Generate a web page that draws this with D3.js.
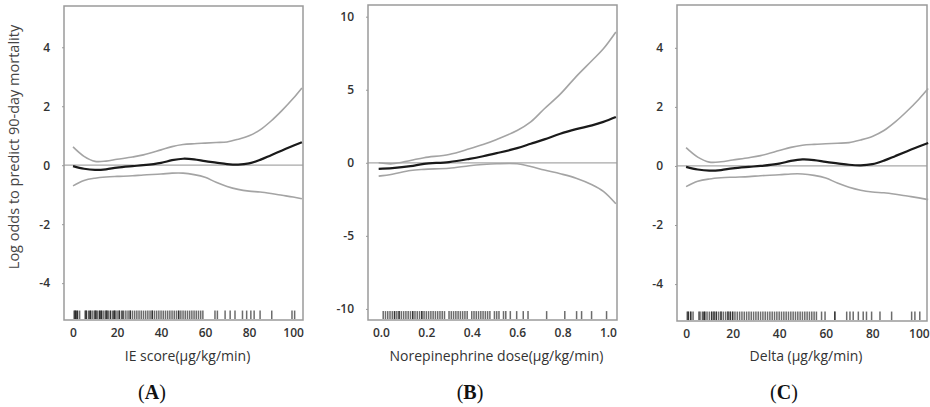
<!DOCTYPE html>
<html><head><meta charset="utf-8">
<script src="https://cdn.jsdelivr.net/npm/d3@7"></script>
<style>body{margin:0;background:#fff}svg{display:block}</style>
</head><body><svg id="c" width="930" height="407"></svg>
<script>
// ---- data ----
const xA = [0, 5, 10, 15, 20, 27, 32, 40, 45, 50, 55, 60, 65, 70, 75, 80, 85, 90, 95, 100, 104];
const fitA = [-0.03, -0.12, -0.16, -0.14, -0.08, -0.03, 0, 0.08, 0.17, 0.22, 0.2, 0.14, 0.09, 0.04, 0.02, 0.06, 0.18, 0.34, 0.5, 0.66, 0.78];
const upA = [0.62, 0.3, 0.13, 0.14, 0.2, 0.28, 0.35, 0.52, 0.63, 0.7, 0.73, 0.75, 0.77, 0.79, 0.88, 1.0, 1.2, 1.5, 1.86, 2.26, 2.62];
const loA = [-0.7, -0.52, -0.44, -0.4, -0.38, -0.36, -0.33, -0.3, -0.27, -0.27, -0.32, -0.41, -0.58, -0.72, -0.82, -0.88, -0.91, -0.96, -1.02, -1.08, -1.14];
const rugA = [0.5,1,1,1.5,2,2,3,5.5,6,6,7,7.5,8,8,9,10,10,10.5,11,12,12,12.5,13,13,14,15,15,15.5,16,17,17,18,18.5,19,19,20,21,21,22,22.5,23,24,25,26,26,27,28,29,30,31,32,33,34,35,36,36,37,38,39,40,41,42,43,44,45,46,47,48,48,49,50,51,52,53,54,55,56,57,58,59,64.5,65.6,69.1,71.4,73.6,77,78.9,80.8,82.3,85,90.3,99.5,100.7];

const xB = [-0.01, 0.05, 0.13, 0.19, 0.3, 0.39, 0.45, 0.51, 0.6, 0.66, 0.72, 0.79, 0.86, 0.93, 0.98, 1.035];
const fitB = [-0.41, -0.36, -0.23, -0.07, 0.05, 0.27, 0.45, 0.66, 1.0, 1.3, 1.6, 1.99, 2.3, 2.56, 2.8, 3.13];
const upB = [0.0, -0.07, 0.16, 0.35, 0.57, 0.96, 1.25, 1.6, 2.21, 2.8, 3.7, 4.7, 5.9, 7.0, 7.8, 8.95];
const loB = [-0.91, -0.78, -0.53, -0.45, -0.37, -0.2, -0.12, -0.07, -0.07, -0.25, -0.5, -0.75, -1.05, -1.5, -1.95, -2.8];
const rugB = [0.01,0.02,0.03,0.04,0.05,0.06,0.06,0.07,0.08,0.08,0.09,0.1,0.11,0.12,0.13,0.14,0.14,0.15,0.16,0.17,0.18,0.18,0.19,0.2,0.21,0.22,0.23,0.24,0.25,0.26,0.27,0.28,0.3,0.31,0.32,0.33,0.34,0.35,0.36,0.37,0.38,0.4,0.41,0.42,0.43,0.44,0.45,0.46,0.47,0.48,0.5,0.51,0.52,0.54,0.55,0.57,0.598,0.627,0.648,0.73,0.81,0.862,0.884,0.928,0.994];

const xC = [0, 5, 10, 15, 20, 27, 32, 40, 45, 50, 55, 60, 65, 70, 75, 80, 85, 90, 95, 100, 104];
const fitC = [-0.03, -0.12, -0.16, -0.14, -0.08, -0.03, 0, 0.08, 0.17, 0.22, 0.2, 0.14, 0.09, 0.04, 0.02, 0.06, 0.18, 0.34, 0.5, 0.66, 0.78];
const upC = [0.62, 0.3, 0.13, 0.14, 0.2, 0.28, 0.35, 0.52, 0.63, 0.7, 0.73, 0.75, 0.77, 0.79, 0.88, 1.0, 1.2, 1.5, 1.86, 2.26, 2.62];
const loC = [-0.7, -0.52, -0.44, -0.4, -0.38, -0.36, -0.33, -0.3, -0.27, -0.27, -0.32, -0.41, -0.58, -0.72, -0.82, -0.88, -0.91, -0.96, -1.02, -1.08, -1.14];
const rugC = [0.5,1,1,2,2,3,5.5,6,7,7.5,8,8,9,10,11,11,12,12,13,13,14,15,15,16,17,18,18,19,19,20,20,21,22,23,24,25,26,27,28,29,30,31,32,33,34,35,36,37,38,39,40,41,42,43,44,45,46,47,48,49,50,51,52,53,54,55,56,58.2,59.7,63.9,63.9,69,70.4,71.8,74,76.1,77.5,79.7,83.3,88.3,96.9,98.3,100.4];

const yTicksAC = [-4, -2, 0, 2, 4];
const yTicksB = [-10, -5, 0, 5, 10];
const xTicksAC = [0, 20, 40, 60, 80, 100];
const xTicksB = [0, 0.2, 0.4, 0.6, 0.8, 1.0];
const xTitles = ["IE score(µg/kg/min)", "Norepinephrine dose(µg/kg/min)", "Delta (µg/kg/min)"];
const panelLetters = ["A", "B", "C"];
const yTitle = "Log odds to predict 90-day mortality";

// ---- drawing ----
const svg = d3.select("#c");
const hyphenInt = d => String(d);
const panels = [
  {x: xA, fit: fitA, up: upA, lo: loA, rug: rugA, xd: [-4.1, 104.5], yd: [-5.25, 5.4], xr: [64, 303], yr: [320, 6], xt: xTicksAC, yt: yTicksAC, fmt: hyphenInt, rugLo: -5.22, rugHi: -4.93, title: xTitles[0], lab: panelLetters[0], labX: 152},
  {x: xB, fit: fitB, up: upB, lo: loB, rug: rugB, xd: [-0.057, 1.04], yd: [-10.76, 10.8], xr: [368, 617], yr: [320, 5], xt: xTicksB, yt: yTicksB, fmt: d3.format(".1f"), rugLo: -10.7, rugHi: -10.15, title: xTitles[1], lab: panelLetters[1], labX: 470},
  {x: xC, fit: fitC, up: upC, lo: loC, rug: rugC, xd: [-3.9, 103.5], yd: [-5.25, 5.45], xr: [677, 927], yr: [321, 5], xt: xTicksAC, yt: yTicksAC, fmt: hyphenInt, rugLo: -5.22, rugHi: -4.93, title: xTitles[2], lab: panelLetters[2], labX: 784}
];

panels.forEach(p => {
  const x = d3.scaleLinear().domain(p.xd).range(p.xr);
  const y = d3.scaleLinear().domain(p.yd).range(p.yr);
  const g = svg.append("g");
  // zero line
  g.append("line").attr("x1", p.xr[0]).attr("x2", p.xr[1]).attr("y1", y(0)).attr("y2", y(0))
    .attr("stroke", "#a8a8a8").attr("stroke-width", 1.2);
  // rug
  g.selectAll("line.rug").data(p.rug).join("line").attr("class", "rug")
    .attr("x1", d => x(d)).attr("x2", d => x(d))
    .attr("y1", y(p.rugLo)).attr("y2", y(p.rugHi))
    .attr("stroke", "#111").attr("stroke-opacity", 0.62).attr("stroke-width", 1.5);
  // y axis
  const ya = g.append("g").attr("transform", `translate(${p.xr[0]},0)`)
    .call(d3.axisLeft(y).tickValues(p.yt).tickSize(2).tickPadding(12).tickFormat(hyphenInt));
  ya.select(".domain").remove();
  ya.selectAll(".tick line").attr("stroke", "#999");
  ya.selectAll("text").attr("font-family", "'Open Sans', sans-serif").attr("font-size", 12).attr("font-weight", 600).attr("fill", "#333");
  // x axis
  const xa = g.append("g").attr("transform", `translate(0,${p.yr[0]})`)
    .call(d3.axisBottom(x).tickValues(p.xt).tickSize(0).tickPadding(8).tickFormat(p.fmt));
  xa.select(".domain").remove();
  xa.selectAll("text").attr("font-family", "'Open Sans', sans-serif").attr("font-size", 12).attr("font-weight", 600).attr("fill", "#333");
  // box
  g.append("rect").attr("x", p.xr[0]).attr("y", p.yr[1]).attr("width", p.xr[1] - p.xr[0]).attr("height", p.yr[0] - p.yr[1])
    .attr("fill", "none").attr("stroke", "#9a9a9a").attr("stroke-width", 1.5);
  // curves
  const line = d3.line().x((d, i) => x(p.x[i])).y(d => y(d)).curve(d3.curveCatmullRom.alpha(0.5));
  g.append("path").attr("d", line(p.up)).attr("fill", "none").attr("stroke", "#a4a4a4").attr("stroke-width", 1.6);
  g.append("path").attr("d", line(p.lo)).attr("fill", "none").attr("stroke", "#a4a4a4").attr("stroke-width", 1.6);
  g.append("path").attr("d", line(p.fit)).attr("fill", "none").attr("stroke", "#1a1a1a").attr("stroke-width", 2.2);
  // x title
  svg.append("text").attr("x", (p.xr[0] + p.xr[1]) / 2 + 4).attr("y", 361).attr("text-anchor", "middle")
    .attr("font-family", "'Open Sans', sans-serif").attr("font-size", 14).attr("fill", "#333").text(p.title);
  // panel letter
  const t = svg.append("text").attr("x", p.labX).attr("y", 399).attr("text-anchor", "middle")
    .attr("font-family", "'Liberation Serif', 'Times New Roman', serif").attr("font-size", 20).attr("fill", "#111");
  t.append("tspan").text("(");
  t.append("tspan").attr("font-weight", "bold").text(p.lab);
  t.append("tspan").text(")");
});

svg.append("text").attr("transform", "translate(19,147) rotate(-90)").attr("text-anchor", "middle")
  .attr("font-family", "'Open Sans', sans-serif").attr("font-size", 14.5).attr("fill", "#444").text(yTitle);
</script></body></html>
